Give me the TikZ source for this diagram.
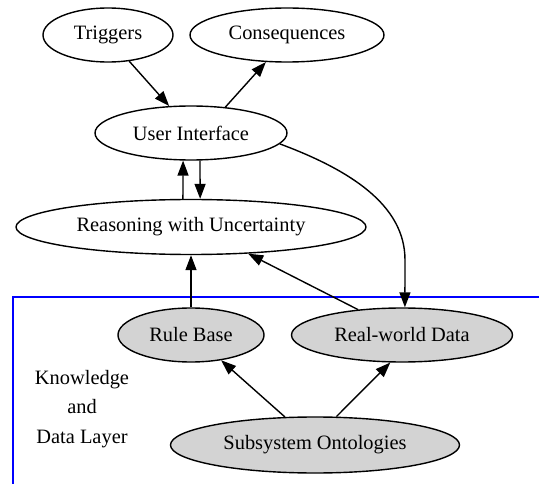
\documentclass[tikz,border=0pt]{standalone}
\usepackage{fontspec}
\setmainfont{Liberation Serif}
\usetikzlibrary{shapes.geometric,arrows.meta}
\begin{document}
\begin{tikzpicture}[x=1pt,y=-1pt,
  every node/.style={font=\fontsize{20.4}{24}\selectfont},
  ell/.style={ellipse,draw,line width=1.4pt,inner sep=0pt},
  grayell/.style={ell,fill={rgb,255:red,211;green,211;blue,211}},
  edge/.style={line width=1.4pt,-{Triangle[length=15pt,width=11pt]}}]
\useasboundingbox (0,0) rectangle (539,484);
% cluster border
\draw[blue,line width=1.4pt] (13,490) -- (13,297) -- (545,297);
\node[align=center,font=\fontsize{20.4}{29.5}\selectfont] (lbl) at (82,409) {Knowledge\\and\\Data Layer};
% nodes
\node[ell,minimum width=130pt,minimum height=54pt] (trig) at (108,35) {Triggers};
\node[ell,minimum width=194pt,minimum height=54pt] (cons) at (287,35) {Consequences};
\node[ell,minimum width=192pt,minimum height=54pt] (ui) at (191,133) {User Interface};
\node[ell,minimum width=350pt,minimum height=55pt] (rea) at (191,227) {Reasoning with Uncertainty};
\node[grayell,minimum width=146pt,minimum height=54pt] (rb) at (191,335) {Rule Base};
\node[grayell,minimum width=221pt,minimum height=54pt] (rwd) at (402,335) {Real-world Data};
\node[grayell,minimum width=289pt,minimum height=56pt] (so) at (315,445) {Subsystem Ontologies};
% edges
\draw[edge] (trig.-51) -- (ui.129);
\draw[edge] (ui.37) -- (cons.-128);
\draw[edge] (rea.106) -- (ui.-106);
\draw[edge] (ui.-72) -- (rea.72);
\draw[edge] (rb.north) -- (rea.south);
\draw[edge] (rwd.150) -- (rea.-25);
\draw[edge] (ui.-7.5) .. controls (350,170) and (405,205) .. (405,260) -- (rwd.84);
\draw[edge] (so.137) -- (rb.-40);
\draw[edge] (so.53) -- (rwd.-113);
\end{tikzpicture}
\end{document}
